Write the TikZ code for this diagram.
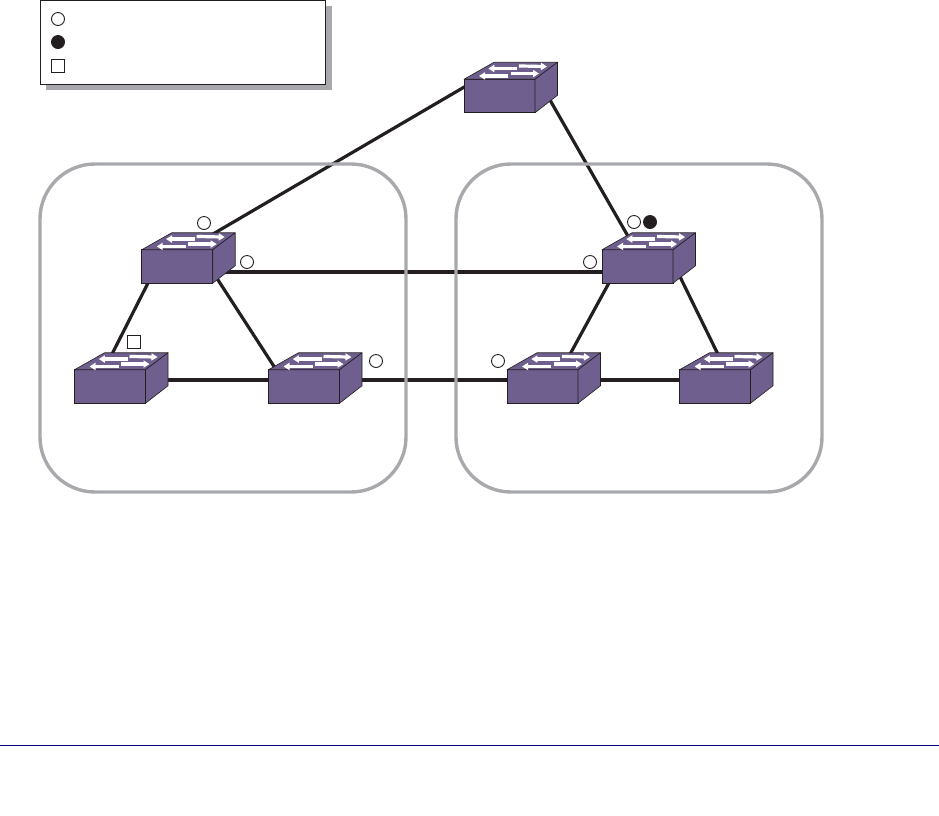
\documentclass[tikz,border=0pt]{standalone}
\usetikzlibrary{positioning, arrows.meta, backgrounds}
\definecolor{mypurple}{RGB}{111,95,142}
\definecolor{mygray}{RGB}{168,169,172}
\definecolor{mydark}{RGB}{35,31,32}
\definecolor{myrule}{RGB}{0,0,120}
\tikzset{
  switchface/.style={rectangle, draw=mydark, line width=0.6pt, fill=mypurple, minimum width=71pt, minimum height=33.5pt, inner sep=0pt, outer sep=0pt},
  ring/.style={rectangle, draw=mygray, line width=3.4pt, rounded corners=55pt, minimum width=366pt, minimum height=328pt},
  link/.style={draw=mydark, line width=3.2pt},
  portopen/.style={circle, draw=mydark, line width=0.9pt, fill=white, minimum size=13pt, inner sep=0pt},
  portfull/.style={circle, draw=mydark, line width=0.9pt, fill=mydark, minimum size=13pt, inner sep=0pt},
  portsquare/.style={rectangle, draw=mydark, line width=0.9pt, fill=white, minimum size=12.5pt, inner sep=0pt},
  portarrow/.style={white, line width=3.2pt, -{Triangle[length=6pt, width=7pt]}}
}
\newcommand{\switchtop}[1]{
  \begin{scope}[shift={(#1.north west)}]
    \draw[fill=mypurple, draw=mydark, line width=0.6pt, line join=round] (0,0) -- (30,-17) -- (93.5,-17) -- (71,0) -- cycle;
    \draw[fill=mypurple, draw=mydark, line width=0.6pt, line join=round] (71,0) -- (93.5,-17) -- (93.5,16) -- (71,33.5) -- cycle;
    \draw[portarrow] (53.3,-10.7) -- (24.3,-10.7);
    \draw[portarrow] (55,-13.3) -- (83,-12.7);
    \draw[portarrow] (44.3,-3.3) -- (15,-3.3);
    \draw[portarrow] (46.7,-5.7) -- (75,-5.7);
  \end{scope}
}
\begin{document}
\begin{tikzpicture}[x=1pt, y=-1pt]
\useasboundingbox (0,0) rectangle (939,815);

% Legend
\node[rectangle, fill=mygray, minimum width=286pt, minimum height=84pt, inner sep=0pt] (legendshadow) at (189,48) {};
\node[rectangle, draw=mydark, line width=1pt, fill=white, minimum width=285pt, minimum height=84pt, inner sep=0pt] (legend) at (183,42) {};
\node[portopen] (keyopen) at (58,19) {};
\node[portfull] (keyfull) at (58,42) {};
\node[portsquare] (keysquare) at (58,66) {};

% Rings
\node[ring] (ringleft) at (223,328) {};
\node[ring] (ringright) at (639,328) {};

% Switches
\node[switchface] (top) at (499.5,96) {};
\node[switchface] (s1) at (177.2,266.5) {};
\node[switchface] (s2) at (110,386.5) {};
\node[switchface] (s3) at (304,386.5) {};
\node[switchface] (s4) at (637.5,266.5) {};
\node[switchface] (s5) at (542.5,386.5) {};
\node[switchface] (s6) at (715,386.5) {};
\foreach \name in {top,s1,s2,s3,s4,s5,s6}
  \switchtop{\name};

% Links
\begin{scope}[on background layer]
\draw[link] ([shift={(-19.5,-18.2)}]top.center) -- ([shift={(22.8,-24.9)}]s1.center);
\draw[link] ([shift={(45.5,-4.7)}]top.center) -- ([shift={(-4.5,-21.5)}]s4.center);
\draw[link] ([shift={(0,5.5)}]s1.center) -- ([shift={(0,5.5)}]s4.center);
\draw[link] ([shift={(37.6,8.5)}]s1.center) -- ([shift={(-23.8,-10.5)}]s3.center);
\draw[link] ([shift={(-22.6,3.5)}]s1.center) -- ([shift={(0,-28.5)}]s2.center);
\draw[link] ([shift={(-21.5,3.5)}]s4.center) -- ([shift={(25.2,-28)}]s5.center);
\draw[link] ([shift={(39.2,3.5)}]s4.center) -- ([shift={(6,-26)}]s6.center);
\draw[link] ([shift={(0,-6.5)}]s2.center) -- ([shift={(0,-6.5)}]s3.center);
\draw[link] ([shift={(0,-6.5)}]s3.center) -- ([shift={(0,-6.5)}]s5.center);
\draw[link] ([shift={(0,-6.5)}]s5.center) -- ([shift={(0,-6.5)}]s6.center);
\end{scope}

% Port marks
\node[portopen] (p1) at (204,223) {};
\node[portopen] (p2) at (247,262) {};
\node[portsquare] (p3) at (134,342) {};
\node[portopen] (p4) at (376,361) {};
\node[portopen] (p5) at (498,361) {};
\node[portopen] (p6) at (590,262) {};
\node[portopen] (p7) at (634,222) {};
\node[portfull] (p8) at (650,222) {};

% Rule
\coordinate (ruleleft) at (0,745);
\coordinate (ruleright) at (939,745);
\draw[myrule, line width=1pt] (ruleleft) -- (ruleright);
\end{tikzpicture}
\end{document}
